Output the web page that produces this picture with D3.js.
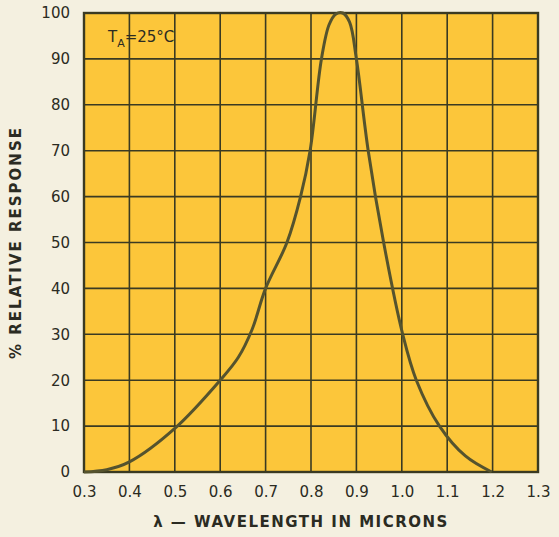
<!DOCTYPE html>
<html><head><meta charset="utf-8">
<script src="https://cdn.jsdelivr.net/npm/d3@7"></script>
<style>
body{margin:0;background:#f4f0e0;}
svg{display:block;}
</style></head>
<body>
<svg id="c" width="559" height="537"></svg>
<script>
const wavelength = [0.30,0.35,0.40,0.50,0.60,0.64,0.67,0.70,0.747,0.777,0.798,0.823,0.84,0.855,0.87,0.885,0.90,0.926,0.96,1.002,1.032,1.083,1.14,1.198];
const response   = [0,0.5,2.2,9.5,20,25,31,40,50,60,70,90,97.5,99.8,100,98,90,70,50,30,20,10,3.5,0];
const xTicks = [0.3,0.4,0.5,0.6,0.7,0.8,0.9,1.0,1.1,1.2,1.3];
const xTickLabels = ["0.3","0.4","0.5","0.6","0.7","0.8","0.9","1.0","1.1","1.2","1.3"];
const yTicks = [0,10,20,30,40,50,60,70,80,90,100];

const svg = d3.select("#c");
const m = {l:84, r:538, t:13, b:472};
const x = d3.scaleLinear().domain([0.3,1.3]).range([m.l,m.r]);
const y = d3.scaleLinear().domain([0,100]).range([m.b,m.t]);
const ink = "#2b2b22";
const font = "'DejaVu Sans', sans-serif";

svg.append("rect").attr("x",m.l).attr("y",m.t).attr("width",m.r-m.l).attr("height",m.b-m.t)
  .attr("fill","#fcc63a");

const g = svg.append("g");
g.selectAll("line.v").data(xTicks).join("line")
  .attr("x1",d=>x(d)).attr("x2",d=>x(d)).attr("y1",m.t).attr("y2",m.b)
  .attr("stroke","#3a3a22").attr("stroke-width",1.6);
g.selectAll("line.h").data(yTicks).join("line")
  .attr("y1",d=>y(d)).attr("y2",d=>y(d)).attr("x1",m.l).attr("x2",m.r)
  .attr("stroke","#3a3a22").attr("stroke-width",1.6);
svg.append("rect").attr("x",m.l).attr("y",m.t).attr("width",m.r-m.l).attr("height",m.b-m.t)
  .attr("fill","none").attr("stroke","#3a3a22").attr("stroke-width",2.4);

// axes labels
const xAxis = d3.axisBottom(x).tickValues(xTicks).tickFormat((d,i)=>xTickLabels[i]).tickSize(0).tickPadding(14);
const xa = svg.append("g").attr("transform",`translate(0,${m.b})`).call(xAxis);
xa.select(".domain").remove();
xa.selectAll("text").attr("font-family",font).attr("font-size",15).attr("fill",ink);

const yAxis = d3.axisLeft(y).tickValues(yTicks).tickFormat(d3.format("d")).tickSize(0).tickPadding(14);
const ya = svg.append("g").attr("transform",`translate(${m.l},0)`).call(yAxis);
ya.select(".domain").remove();
ya.selectAll("text").attr("font-family",font).attr("font-size",15).attr("fill",ink);

// curve
const pts = wavelength.map((w,i)=>[w,response[i]]);
const line = d3.line().x(d=>x(d[0])).y(d=>y(d[1])).curve(d3.curveCatmullRom.alpha(0.5));
svg.append("path").datum(pts).attr("d",line).attr("fill","none")
  .attr("stroke","#55532e").attr("stroke-width",3).attr("stroke-linejoin","round");

// annotation
const ann = svg.append("text").attr("x",108).attr("y",42).attr("font-family",font)
  .attr("font-size",15).attr("fill",ink);
ann.append("tspan").text("T");
ann.append("tspan").attr("font-size",11).attr("dy",5).text("A");
ann.append("tspan").attr("dy",-5).text("=25°C");

// titles
svg.append("text").attr("x",(m.l+m.r)/2-10).attr("y",527).attr("text-anchor","middle")
  .attr("font-family",font).attr("font-size",15).attr("font-weight","bold").attr("letter-spacing",1.5)
  .attr("fill",ink).text("λ — WAVELENGTH IN MICRONS");
svg.append("text").attr("transform",`translate(21,${(m.t+m.b)/2}) rotate(-90)`).attr("text-anchor","middle")
  .attr("font-family",font).attr("font-size",15).attr("font-weight","bold").attr("letter-spacing",2)
  .attr("fill",ink).text("% RELATIVE RESPONSE");
</script>
</body></html>
